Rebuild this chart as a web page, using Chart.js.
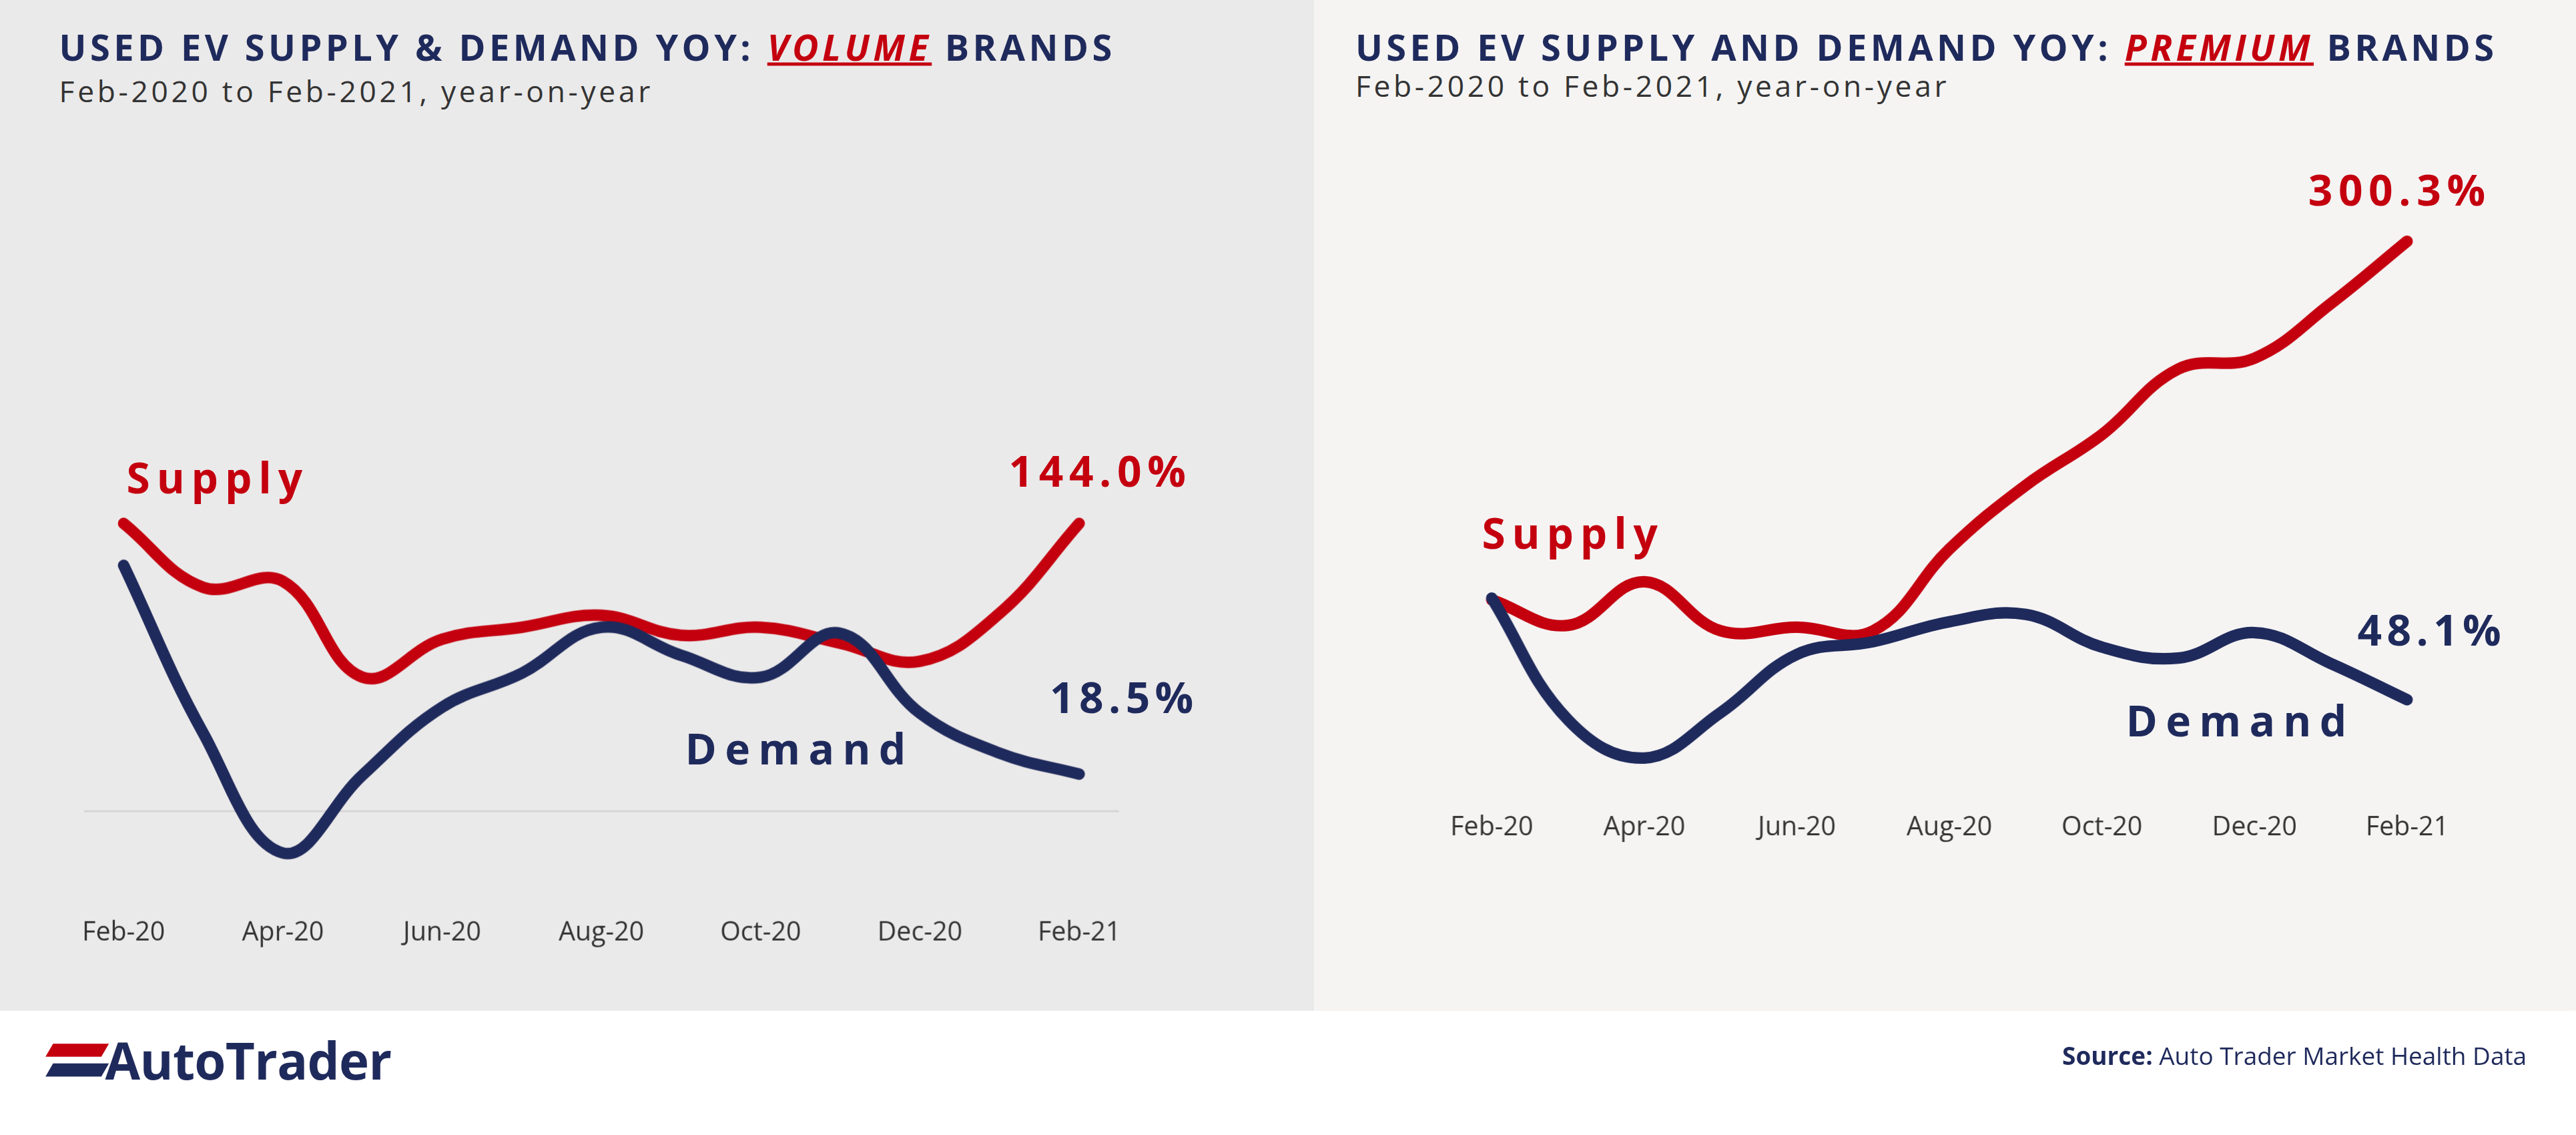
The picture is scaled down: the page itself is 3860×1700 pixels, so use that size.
<!DOCTYPE html>
<html><head><meta charset="utf-8">
<script src="https://cdn.jsdelivr.net/npm/chart.js@4/dist/chart.umd.min.js"></script>
<style>
html,body{margin:0;padding:0;background:#fff;overflow:hidden}
#wrap{position:absolute;left:0;top:0;width:1568px;height:690px;transform:scale(2.4617);transform-origin:0 0;font-family:"Open Sans",sans-serif}
.panel{position:absolute;top:0;height:615px}
.t{position:absolute;white-space:nowrap}
.title{font-weight:700;font-size:22px;letter-spacing:2.2px;color:#1f2a5c}
.title u{color:#c4000f;font-style:italic;text-decoration-thickness:2px}
.sub{font-size:18px;letter-spacing:1.9px;color:#333}
.lab{font-weight:700;font-size:26px;letter-spacing:4px}
.red{color:#c4000f}.navy{color:#1f2a5c}
canvas{position:absolute}
</style></head><body>
<div id="wrap">
<div class="panel" style="left:0;width:800px;background:#ebeaea"></div>
<div class="panel" style="left:800px;width:768px;background:#f5f4f3"></div>
<canvas id="c1" style="left:0;top:280px;width:800px;height:341px"></canvas>
<canvas id="c2" style="left:800px;top:110px;width:768px;height:410px"></canvas>
<div class="t title" style="left:36px;top:13px">USED EV SUPPLY &amp; DEMAND YOY: <u>VOLUME</u> BRANDS</div>
<div class="t sub" style="left:36px;top:43px">Feb-2020 to Feb-2021, year-on-year</div>
<div class="t title" style="left:825px;top:13px">USED EV SUPPLY AND DEMAND YOY: <u>PREMIUM</u> BRANDS</div>
<div class="t sub" style="left:825px;top:40px">Feb-2020 to Feb-2021, year-on-year</div>
<div class="t lab red" style="left:77px;top:272px">Supply</div>
<div class="t lab red" style="left:614px;top:268px;letter-spacing:3.5px">144.0%</div>
<div class="t lab navy" style="left:639px;top:406px;letter-spacing:3px">18.5%</div>
<div class="t lab navy" style="left:417px;top:437px;letter-spacing:5px">Demand</div>
<div class="t lab red" style="left:902px;top:306px">Supply</div>
<div class="t lab red" style="left:1405px;top:97px;letter-spacing:3.5px">300.3%</div>
<div class="t lab navy" style="left:1435px;top:365px;letter-spacing:3px">48.1%</div>
<div class="t lab navy" style="left:1294px;top:420px;letter-spacing:5px">Demand</div>
<div class="t" style="left:30px;top:635px;width:34px;height:8px;background:#c4000f;transform:skewX(-30deg)"></div>
<div class="t" style="left:30px;top:647px;width:34px;height:8px;background:#1f2a5c;transform:skewX(-30deg)"></div>
<div class="t" style="left:64px;top:624px;font-size:31px;font-weight:700;color:#1f2a5c;letter-spacing:-0.3px">AutoTrader</div>
<div class="t" style="right:30px;top:632px;font-size:15px;color:#1f2a5c"><b>Source:</b> Auto Trader Market Health Data</div>
</div>
<script>
const months=["Feb-20","Mar-20","Apr-20","May-20","Jun-20","Jul-20","Aug-20","Sep-20","Oct-20","Nov-20","Dec-20","Jan-21","Feb-21"];
const volumeSupply=[144,112,115,67,86,92,98,88,92,84,75,99,144.0];
const volumeDemand=[123,39,-21,18,52,69,92,78,67,89,49,29,18.5];
const premiumSupply=[103,89,113,86,88,86,131,166,194,230,236,266,300.3];
const premiumDemand=[104,37,16,41,73,80,91,95,77,71,85,68,48.1];
const RED="#c4000f",NAVY="#1f2a5c",DPR=2.4617;
function ds(d,c){return{data:d,borderColor:c,borderWidth:7,pointRadius:0,tension:0.4,fill:false,clip:false,borderCapStyle:'round'}}
function make(id,sets,opt){
  return new Chart(document.getElementById(id),{type:'line',
    data:{labels:months,datasets:sets},
    options:{responsive:false,animation:false,devicePixelRatio:DPR,
      layout:{padding:opt.pad},
      plugins:{legend:{display:false},tooltip:{enabled:false}},
      scales:{
        x:{offset:opt.offset,grid:{display:false},border:{display:false},
           ticks:{autoSkip:false,maxRotation:0,padding:opt.tp,color:'#333',font:{family:'Open Sans',size:16},
             callback:(v,i)=>i%2===0?months[i]:''}},
        y:{display:opt.ygrid,min:opt.min,max:opt.max,border:{display:false},
           ticks:{display:false},grid:{drawTicks:false,color:c=>c.tick.value===0?'#d6d6d6':'transparent',lineWidth:1.2},afterBuildTicks:a=>{a.ticks=[{value:0}]}}
      }}});
}
const c1=document.getElementById('c1');c1.width=800;c1.height=341;
const c2=document.getElementById('c2');c2.width=768;c2.height=410;
make('c1',[ds(volumeDemand,NAVY),ds(volumeSupply,RED)],{pad:{left:51,right:119,top:19,bottom:24},offset:true,tp:20,min:-30,max:160,ygrid:true});
make('c2',[ds(premiumDemand,NAVY),ds(premiumSupply,RED)],{pad:{left:108,right:103,top:15,bottom:0},offset:false,tp:7,min:0,max:320,ygrid:false});
</script>
</body></html>
